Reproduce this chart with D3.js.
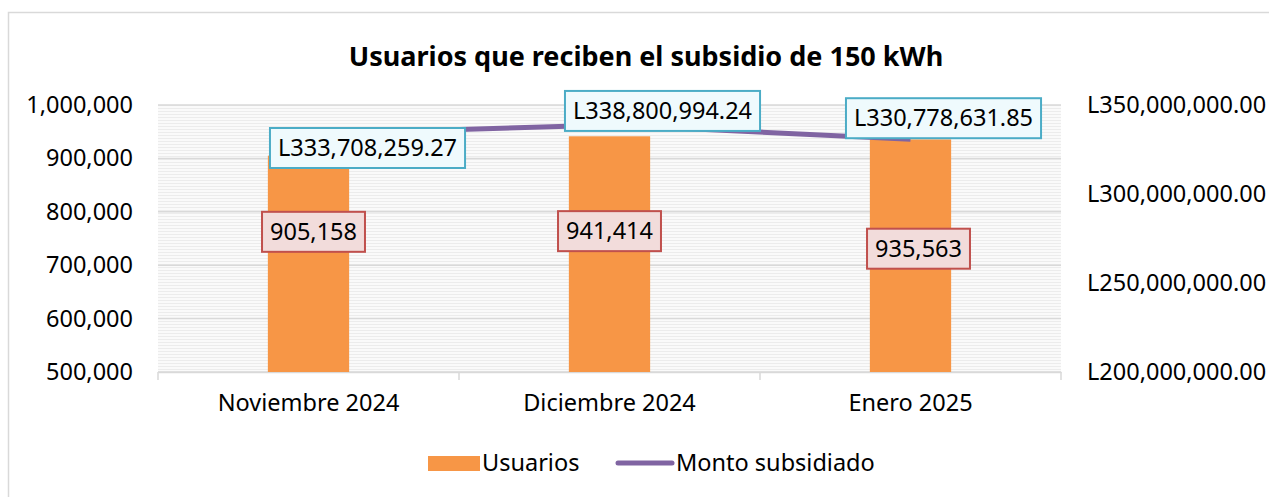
<!DOCTYPE html>
<html>
<head>
<meta charset="utf-8">
<script src="https://cdn.jsdelivr.net/npm/d3@7"></script>
<style>
  body { margin: 0; background: #fff; }
  svg text { font-family: "Noto Sans", "Open Sans", sans-serif; fill: #000; }
</style>
</head>
<body>
<svg id="chart" width="1269" height="497"></svg>
<script>
// datos
var months = ["Noviembre 2024", "Diciembre 2024", "Enero 2025"];
var usuarios = [905158, 941414, 935563];
var monto = [333708259.27, 338800994.24, 330778631.85];
var leftTicks = [500000, 600000, 700000, 800000, 900000, 1000000];
var rightTicks = [200000000, 250000000, 300000000, 350000000];

// desplazamiento manual de las etiquetas (como en el original)
var barLabelShift = [[5, -32], [0, -23], [8, -7]];
var lineLabelShift = [[59, 14], [53, -14], [33, -21]];

var svg = d3.select("#chart"),
  width = +svg.attr("width"),
  height = +svg.attr("height");

var margin = {top: 105, right: 208, bottom: 125, left: 158};
var plotW = width - margin.left - margin.right,
  plotH = height - margin.top - margin.bottom;

// marco del grafico
svg.append("rect")
  .attr("x", 8.5).attr("y", 12.5)
  .attr("width", width + 20).attr("height", height + 20)
  .attr("fill", "#fff").attr("stroke", "#D9D9D9").attr("stroke-width", 1.5);

// patron rayado del area de trazado
var defs = svg.append("defs");
var pat = defs.append("pattern")
  .attr("id", "stripes").attr("patternUnits", "userSpaceOnUse")
  .attr("width", 8).attr("height", 3);
pat.append("rect").attr("width", 8).attr("height", 3).attr("fill", "#FAFAFA");
pat.append("rect").attr("width", 8).attr("height", 1).attr("fill", "#ECECEC");

var x = d3.scaleBand().domain(months).range([0, plotW]).paddingInner(0).paddingOuter(0);
var yL = d3.scaleLinear().domain([500000, 1000000]).range([plotH, 0]);
var yR = d3.scaleLinear().domain([200000000, 350000000]).range([plotH, 0]);

var fmtL = d3.format(",");
var fmtMoney = function(v) { return "L" + d3.format(",.2f")(v); };

var g = svg.append("g").attr("transform", "translate(" + margin.left + "," + margin.top + ")");

g.append("rect").attr("width", plotW).attr("height", plotH).attr("fill", "url(#stripes)");

// lineas de cuadricula
g.selectAll(".grid").data(leftTicks).enter().append("line")
  .attr("x1", 0).attr("x2", plotW)
  .attr("y1", function(d) { return yL(d); })
  .attr("y2", function(d) { return yL(d); })
  .attr("stroke", "#D9D9D9").attr("stroke-width", 1.5);

// eje izquierdo
var axL = g.append("g").call(d3.axisLeft(yL).tickValues(leftTicks).tickFormat(fmtL).tickSize(0).tickPadding(25));
axL.select(".domain").remove();
axL.selectAll("text").attr("font-size", 23.5).attr("font-family", "Noto Sans").attr("fill", "#000").attr("dy", "0.32em");

// eje derecho
var axR = g.append("g").attr("transform", "translate(" + plotW + ",0)")
  .call(d3.axisRight(yR).tickValues(rightTicks).tickFormat(fmtMoney).tickSize(0).tickPadding(26));
axR.select(".domain").remove();
axR.selectAll("text").attr("font-size", 23.5).attr("font-family", "Noto Sans").attr("fill", "#000").attr("dy", "0.32em");

// eje inferior
var axB = g.append("g").attr("transform", "translate(0," + plotH + ")")
  .call(d3.axisBottom(x).tickSize(0).tickPadding(22));
axB.select(".domain").attr("stroke", "#D9D9D9").attr("stroke-width", 1.5);
axB.selectAll("text").attr("font-size", 23.5).attr("font-family", "Noto Sans").attr("fill", "#000");
var edges = months.map(function(m) { return x(m); }).concat([plotW]);
g.selectAll(".edge").data(edges).enter().append("line")
  .attr("x1", function(d) { return d; }).attr("x2", function(d) { return d; })
  .attr("y1", plotH).attr("y2", plotH + 8)
  .attr("stroke", "#D9D9D9").attr("stroke-width", 1.5);

// barras
var barW = x.bandwidth() * 0.27;
g.selectAll(".bar").data(usuarios).enter().append("rect")
  .attr("x", function(d, i) { return x(months[i]) + x.bandwidth() / 2 - barW / 2; })
  .attr("y", function(d) { return yL(d); })
  .attr("width", barW)
  .attr("height", function(d) { return plotH - yL(d); })
  .attr("fill", "#F79646");

// linea
var line = d3.line()
  .x(function(d, i) { return x(months[i]) + x.bandwidth() / 2; })
  .y(function(d) { return yR(d); });
g.append("path").datum(monto)
  .attr("d", line)
  .attr("fill", "none").attr("stroke", "#8064A2").attr("stroke-width", 5);

// etiquetas con caja
function boxLabel(cx, cy, text, fill, stroke) {
  var lg = g.append("g");
  var t = lg.append("text").attr("x", cx).attr("y", cy).attr("dy", "0.35em")
    .attr("text-anchor", "middle").attr("font-size", 23.5).text(text);
  var bb = t.node().getBBox();
  lg.insert("rect", "text")
    .attr("x", bb.x - 8).attr("y", cy - 20)
    .attr("width", bb.width + 16).attr("height", 40)
    .attr("fill", fill).attr("stroke", stroke).attr("stroke-width", 2);
}

usuarios.forEach(function(d, i) {
  var cx = x(months[i]) + x.bandwidth() / 2 + barLabelShift[i][0];
  var cy = (yL(d) + plotH) / 2 + barLabelShift[i][1];
  boxLabel(cx, cy, fmtL(d), "#F2DCDB", "#C0504D");
});

monto.forEach(function(d, i) {
  var cx = x(months[i]) + x.bandwidth() / 2 + lineLabelShift[i][0];
  var cy = yR(d) + lineLabelShift[i][1];
  boxLabel(cx, cy, fmtMoney(d), "#EFFAFD", "#4BACC6");
});

// titulo
svg.append("text")
  .attr("x", 646).attr("y", 66)
  .attr("text-anchor", "middle")
  .attr("font-size", 27).attr("font-weight", "bold")
  .text("Usuarios que reciben el subsidio de 150 kWh");

// leyenda
var leg = svg.append("g").attr("transform", "translate(0,463)");
leg.append("rect").attr("x", 428).attr("y", -7).attr("width", 52).attr("height", 15).attr("fill", "#F79646");
leg.append("text").attr("x", 482).attr("y", 0).attr("dy", "0.35em").attr("font-size", 23.5).text("Usuarios");
leg.append("line").attr("x1", 618).attr("x2", 672).attr("y1", 0).attr("y2", 0)
  .attr("stroke", "#8064A2").attr("stroke-width", 5).attr("stroke-linecap", "round");
leg.append("text").attr("x", 676).attr("y", 0).attr("dy", "0.35em").attr("font-size", 23.5).text("Monto subsidiado");
</script>
</body>
</html>
